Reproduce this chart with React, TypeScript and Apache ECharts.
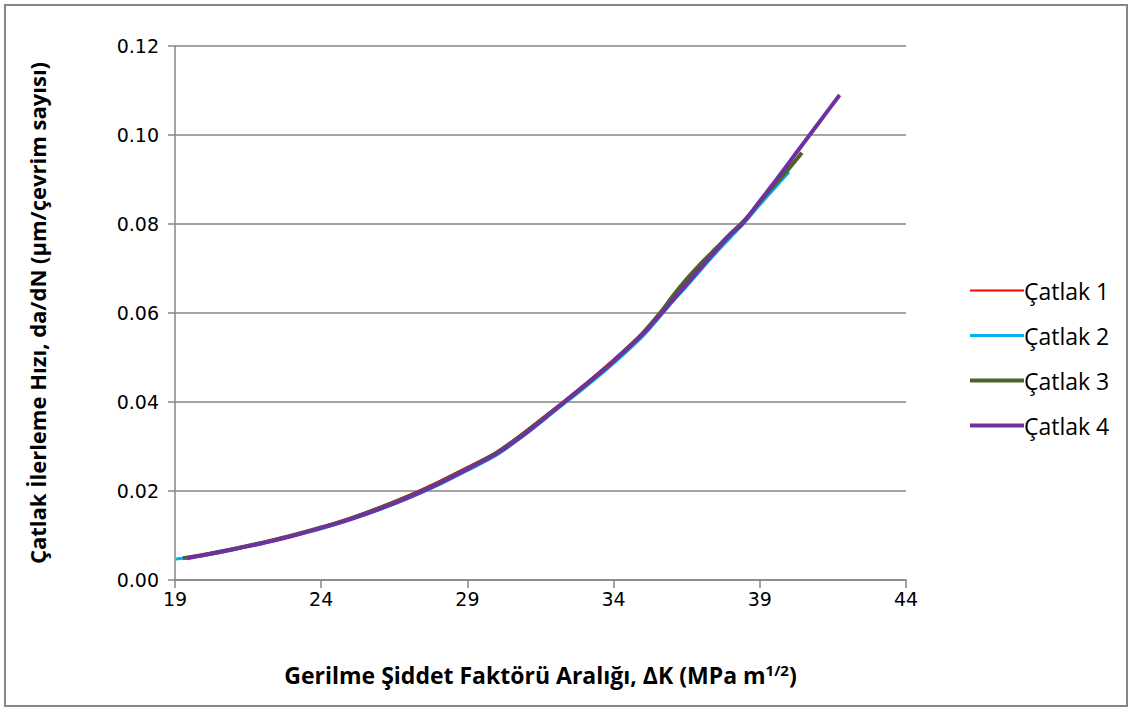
import React, { useEffect, useRef } from "react";
import * as echarts from "echarts";

const seriesNames = ["Çatlak 1", "Çatlak 2", "Çatlak 3", "Çatlak 4"];

const catlak1: [number, number][] = [
  [19.3, 0.005], [20, 0.0058], [21, 0.0071], [22, 0.0085], [23, 0.0101], [24, 0.0119],
  [25, 0.014], [26, 0.0164], [27, 0.0191], [28, 0.0221], [29, 0.0254], [30, 0.0288],
  [31, 0.0336], [32, 0.0387], [33, 0.044], [34, 0.0496], [35, 0.0556], [35.8, 0.0612],
];

const catlak2: [number, number][] = [
  [19.03, 0.0047], [20, 0.0055], [21, 0.0068], [22, 0.0082], [23, 0.0098], [24, 0.0115],
  [25, 0.0135], [26, 0.0158], [27, 0.0184], [28, 0.0213], [29, 0.0246], [30, 0.0281],
  [31, 0.0328], [32, 0.038], [33, 0.0432], [34, 0.0487], [35, 0.0548], [35.65, 0.0597],
  [36, 0.0624], [36.5, 0.066], [37, 0.0698], [37.5, 0.0735], [38, 0.077], [38.5, 0.0805],
  [39, 0.0843], [39.5, 0.088], [40, 0.0917],
];

const catlak3: [number, number][] = [
  [19.27, 0.0049], [20, 0.0057], [21, 0.007], [22, 0.0084], [23, 0.01], [24, 0.0118],
  [25, 0.0138], [26, 0.0162], [27, 0.0188], [28, 0.0218], [29, 0.0251], [30, 0.0286],
  [31, 0.0333], [32, 0.0384], [33, 0.0436], [34, 0.0492], [35, 0.0555], [35.65, 0.0605],
  [36, 0.0636], [36.5, 0.0676], [37, 0.0712], [37.5, 0.0745], [38, 0.0778], [38.5, 0.081],
  [39, 0.085], [39.5, 0.0888], [40, 0.0925], [40.44, 0.096],
];

const catlak4: [number, number][] = [
  [19.4, 0.0049], [20, 0.0056], [21, 0.0069], [22, 0.0083], [23, 0.0099], [24, 0.0117],
  [25, 0.0137], [26, 0.016], [27, 0.0186], [28, 0.0216], [29, 0.0249], [30, 0.0284],
  [31, 0.033], [32, 0.0383], [33, 0.0437], [33.8, 0.048], [34.5, 0.0522], [35, 0.0553],
  [35.65, 0.06], [36, 0.0627], [36.5, 0.0665], [37, 0.0703], [37.5, 0.074], [38, 0.0776],
  [38.4, 0.08], [39, 0.0851], [39.5, 0.0894], [40, 0.0938], [40.5, 0.0982], [41, 0.1026],
  [41.73, 0.109],
];

const seriesData = [catlak1, catlak2, catlak3, catlak4];
const seriesColors = ["#FF0000", "#00B0F0", "#4F6228", "#7030A0"];
const seriesWidths = [2, 3, 4, 4];

const xMin = 19;
const xMax = 44;
const xStep = 5;
const yMin = 0;
const yMax = 0.12;
const yStep = 0.02;

const yTitle = "Çatlak İlerleme Hızı, da/dN (µm/çevrim sayısı)";
const xTitle = "Gerilme Şiddet Faktörü Aralığı, ΔK (MPa m{sup|1/2})";

export default function App() {
  const ref = useRef<HTMLDivElement>(null);

  useEffect(() => {
    if (!ref.current) return;
    const chart = echarts.init(ref.current, null, { renderer: "svg" });
    const gray = "#868686";
    chart.setOption({
      animation: false,
      backgroundColor: "#ffffff",
      graphic: [
        {
          type: "rect",
          shape: { x: 5, y: 5, width: 1122, height: 701 },
          style: { fill: "none", stroke: gray, lineWidth: 2 },
          silent: true,
        },
      ],
      grid: { left: 175, right: 223, top: 46, bottom: 129, containLabel: false },
      legend: {
        orient: "vertical",
        left: 963,
        top: 274,
        itemWidth: 54,
        itemHeight: 20,
        itemGap: 22,
        itemStyle: { opacity: 0 },
        lineStyle: { width: "inherit" },
        data: seriesNames,
        textStyle: { fontFamily: "Open Sans", fontSize: 23, color: "#000", lineHeight: 20, padding: [0, 0, 0, -5] },
      },
      xAxis: {
        type: "value",
        min: xMin,
        max: xMax,
        interval: xStep,
        name: xTitle,
        nameLocation: "middle",
        nameGap: 82,
        nameTextStyle: {
          fontFamily: "Open Sans",
          fontWeight: "bold",
          fontSize: 23,
          color: "#000",
          rich: {
            sup: { fontFamily: "Open Sans", fontWeight: "bold", fontSize: 15, verticalAlign: "top", padding: [0, 0, 10, 0], color: "#000" },
          },
        },
        axisLine: { show: true, lineStyle: { color: gray, width: 1.5 } },
        axisTick: { show: true, inside: false, length: 8, lineStyle: { color: gray, width: 1.5 } },
        axisLabel: { fontFamily: "DejaVu Sans", fontSize: 19, color: "#000", margin: 9 },
        splitLine: { show: false },
      },
      yAxis: {
        type: "value",
        min: yMin,
        max: yMax,
        interval: yStep,
        name: yTitle,
        nameLocation: "middle",
        nameGap: 127,
        nameTextStyle: { fontFamily: "Open Sans", fontWeight: "bold", fontSize: 22, color: "#000" },
        axisLine: { show: true, lineStyle: { color: gray, width: 1.5 } },
        axisTick: { show: true, inside: false, length: 7, lineStyle: { color: gray, width: 1.5 } },
        axisLabel: {
          fontFamily: "DejaVu Sans",
          fontSize: 19,
          color: "#000",
          margin: 16,
          formatter: (v: number) => v.toFixed(2),
        },
        splitLine: { show: true, lineStyle: { color: gray, width: 1.5 } },
      },
      series: seriesNames.map((name, i) => ({
        name,
        type: "line",
        data: seriesData[i],
        showSymbol: false,
        symbol: "none",
        smooth: 0.3,
        color: seriesColors[i],
        lineStyle: { color: seriesColors[i], width: seriesWidths[i] },
        itemStyle: { color: seriesColors[i] },
      })),
    });
    return () => chart.dispose();
  }, []);

  return (
    <div
      ref={ref}
      style={{ position: "fixed", left: 0, top: 0, width: 1129, height: 709, background: "#fff" }}
    />
  );
}
